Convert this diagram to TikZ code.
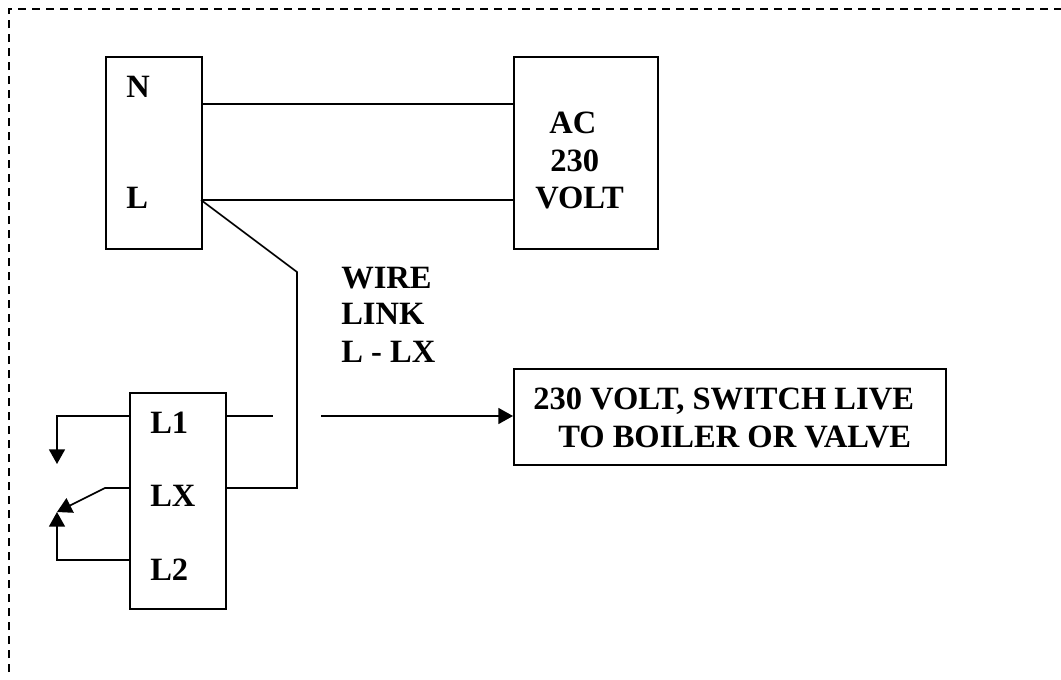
\documentclass[tikz,border=0pt]{standalone}
\usepackage{fontspec}
\setmainfont{Liberation Serif}
\usetikzlibrary{arrows.meta}
\tikzset{
  x=0.75pt,y=-0.75pt,
  wire/.style={line width=1.25pt,black},
  frameline/.style={line width=1.25pt,black,dash pattern=on 6pt off 4.5pt},
  tip/.style={-{Triangle[length=11pt,width=12pt]}},
  boxnode/.style={draw,line width=1.25pt,rectangle,inner sep=0pt,anchor=north west},
  lbl/.style={inner sep=0pt,anchor=base west,font=\fontsize{24.4}{28}\selectfont\bfseries}
}
\begin{document}
\begin{tikzpicture}
\useasboundingbox (0,0) rectangle (1061,679);
\coordinate (fa) at (9,672);
\coordinate (fb) at (9,9);
\coordinate (fc) at (1061,9);
\draw[frameline] (fa) -- (fb) -- (fc);
\node[boxnode,minimum width=72pt,minimum height=144pt] (nl) at (105,56) {};
\node[boxnode,minimum width=108pt,minimum height=144pt] (ac) at (513,56) {};
\node[boxnode,minimum width=72pt,minimum height=162pt] (sw) at (129,392) {};
\node[boxnode,minimum width=324pt,minimum height=72pt] (out) at (513,368) {};
\node[lbl] at (126,97) (tn) {N};
\node[lbl] at (126,208) (tl) {L};
\node[lbl] at (549,133) (t1) {AC};
\node[lbl] at (550,171) (t2) {230};
\node[lbl] at (535,208) (t3) {VOLT};
\node[lbl] at (341,288) (t4) {WIRE};
\node[lbl] at (341,324) (t5) {LINK};
\node[lbl] at (341,362) (t6) {L - LX};
\node[lbl] at (150,433) (t7) {L1};
\node[lbl] at (150,506) (t8) {LX};
\node[lbl] at (150,580) (t9) {L2};
\node[lbl] at (533,409) (t10) {230 VOLT, SWITCH LIVE};
\node[lbl] at (558,447) (t11) {TO BOILER OR VALVE};
\coordinate (n1) at (201,104);
\coordinate (n2) at (513,104);
\coordinate (l1) at (201,200);
\coordinate (l2) at (513,200);
\coordinate (b1) at (297,272);
\coordinate (b2) at (297,488);
\coordinate (lxr) at (225,488);
\coordinate (sa) at (225,416);
\coordinate (sb) at (273,416);
\coordinate (sc) at (321,416);
\coordinate (sd) at (513,416);
\coordinate (la) at (129,416);
\coordinate (lb) at (57,416);
\coordinate (lc) at (57,464);
\coordinate (xa) at (129,488);
\coordinate (xb) at (105,488);
\coordinate (xc) at (57,512);
\coordinate (za) at (129,560);
\coordinate (zb) at (57,560);
\coordinate (zc) at (57,512);
\draw[wire] (n1) -- (n2);
\draw[wire] (l1) -- (l2);
\draw[wire] (l1) -- (b1) -- (b2) -- (lxr);
\draw[wire] (sa) -- (sb);
\draw[wire,tip] (sc) -- (sd);
\draw[wire,tip] (la) -- (lb) -- (lc);
\draw[wire,tip] (xa) -- (xb) -- (xc);
\draw[wire,tip] (za) -- (zb) -- (zc);
\end{tikzpicture}
\end{document}
